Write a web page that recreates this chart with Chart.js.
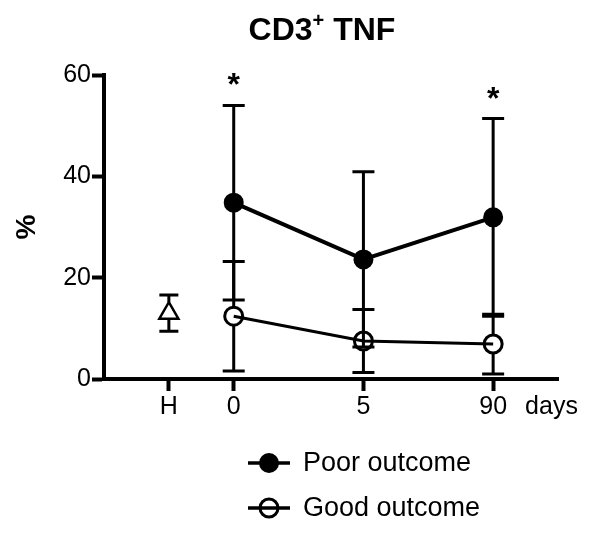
<!DOCTYPE html>
<html>
<head>
<meta charset="utf-8">
<script src="https://cdn.jsdelivr.net/npm/chart.js@4.4.1/dist/chart.umd.min.js"></script>
<style>
  html, body { margin: 0; padding: 0; background: #fff; }
  #wrap { width: 600px; height: 540px; position: relative; }
</style>
</head>
<body>
<div id="wrap"><canvas id="tnfChart"></canvas></div>
<script>
/* ==========================
   DATA
========================== */

const slotLabels = ["H", "0", "5", "90"];
const slotPos = [-0.5, 0, 1, 2];      // where each time point sits on the x axis
const daysPos = 2.45;                  // unit label after the last tick
const yTicks = [0, 20, 40, 60];

const healthyMean = [13.0];
const healthySd = [3.6];

const poorMean = [34.8, 23.6, 31.9];
const poorSd = [19.2, 17.3, 19.5];

const goodMean = [12.4, 7.5, 6.9];
const goodSd = [10.8, 6.2, 5.9];

const starred = ["0", "90"];           // significant time points (poor vs good)

const FONT = "'Liberation Sans', Arial, sans-serif";

/* ==========================
   HELPERS
========================== */

const toPoints = (means, slots) =>
    means.map((v, i) => ({ x: slotPos[slotLabels.indexOf(slots[i])], y: v }));

/* error bars drawn from the symbol edge outwards, like Prism */
const errorBars = {
    id: "errorBars",
    afterDatasetsDraw(chart) {
        const ctx = chart.ctx;
        const yScale = chart.scales.y;
        chart.data.datasets.forEach((ds, di) => {
            const meta = chart.getDatasetMeta(di);
            ctx.save();
            ctx.strokeStyle = "#000";
            ctx.lineWidth = 3;
            meta.data.forEach((el, i) => {
                const m = ds.data[i].y;
                const sd = ds.sd[i];
                const r = el.options.radius;
                const upGap = r;
                const downGap = ds.pointStyle === "triangle" ? r / 2 : r;
                const top = yScale.getPixelForValue(m + sd);
                const bot = yScale.getPixelForValue(m - sd);
                const cw = ds.capWidth;
                ctx.beginPath();
                ctx.moveTo(el.x, el.y - upGap);
                ctx.lineTo(el.x, top);
                ctx.moveTo(el.x - cw, top);
                ctx.lineTo(el.x + cw, top);
                ctx.moveTo(el.x, el.y + downGap);
                ctx.lineTo(el.x, bot);
                ctx.moveTo(el.x - cw, bot);
                ctx.lineTo(el.x + cw, bot);
                ctx.stroke();
            });
            ctx.restore();
        });

        /* asterisks above the poor outcome bars */
        const poorIdx = chart.data.datasets.findIndex(d => d.label === "Poor outcome");
        const poor = chart.data.datasets[poorIdx];
        const poorMeta = chart.getDatasetMeta(poorIdx);
        ctx.save();
        ctx.fillStyle = "#000";
        ctx.font = "bold 32px " + FONT;
        ctx.textAlign = "center";
        ctx.textBaseline = "alphabetic";
        poorMeta.data.forEach((el, i) => {
            const slot = slotLabels[slotLabels.indexOf("0") + i];
            if (!starred.includes(slot)) return;
            const top = yScale.getPixelForValue(poor.data[i].y + poor.sd[i]);
            ctx.fillText("*", el.x, top - 10);
        });
        ctx.restore();
    }
};

/* title with superscript and the stacked legend */
const decorations = {
    id: "decorations",
    afterDraw(chart) {
        const ctx = chart.ctx;
        const area = chart.chartArea;

        // title
        ctx.save();
        ctx.fillStyle = "#000";
        ctx.textBaseline = "alphabetic";
        const big = "bold 32px " + FONT;
        const small = "bold 20px " + FONT;
        ctx.font = big;
        const w1 = ctx.measureText("CD3").width;
        const w3 = ctx.measureText(" TNF").width;
        ctx.font = small;
        const w2 = ctx.measureText("+").width;
        let x = 322 - (w1 + w2 + w3) / 2;
        const base = 40;
        ctx.font = big;
        ctx.fillText("CD3", x, base);
        x += w1;
        ctx.font = small;
        ctx.fillText("+", x, base - 13);
        x += w2;
        ctx.font = big;
        ctx.fillText(" TNF", x, base);
        ctx.restore();

        // legend, poor outcome first
        const entries = chart.data.datasets
            .filter(d => d.legendRow !== undefined)
            .sort((a, b) => a.legendRow - b.legendRow);
        ctx.save();
        entries.forEach((ds, i) => {
            const y = area.bottom + 84 + i * 45;
            ctx.strokeStyle = "#000";
            ctx.beginPath();
            ctx.arc(269, y, ds.pointRadius, 0, Math.PI * 2);
            ctx.fillStyle = ds.pointBackgroundColor;
            ctx.fill();
            ctx.lineWidth = ds.pointBorderWidth;
            ctx.stroke();
            ctx.lineWidth = 3.5;
            ctx.beginPath();
            ctx.moveTo(248, y);
            ctx.lineTo(290, y);
            ctx.stroke();
            ctx.fillStyle = "#000";
            ctx.font = "27px " + FONT;
            ctx.textBaseline = "middle";
            ctx.textAlign = "left";
            ctx.fillText(ds.label, 303, y + 1);
        });
        ctx.restore();
    }
};

/* ==========================
   CHART
========================== */

const canvas = document.getElementById("tnfChart");

new Chart(canvas, {
    type: "line",
    data: {
        datasets: [
            {
                label: "Good outcome",
                legendRow: 1,
                data: toPoints(goodMean, ["0", "5", "90"]),
                sd: goodSd,
                capWidth: 11,
                borderColor: "#000",
                borderWidth: 3,
                pointStyle: "circle",
                pointRadius: 9,
                pointBorderWidth: 3,
                pointBackgroundColor: "rgba(0,0,0,0)",
                pointBorderColor: "#000",
                tension: 0
            },
            {
                label: "Poor outcome",
                legendRow: 0,
                data: toPoints(poorMean, ["0", "5", "90"]),
                sd: poorSd,
                capWidth: 11,
                borderColor: "#000",
                borderWidth: 4,
                pointStyle: "circle",
                pointRadius: 9,
                pointBorderWidth: 2,
                pointBackgroundColor: "#000",
                pointBorderColor: "#000",
                tension: 0
            },
            {
                label: "Healthy",
                data: toPoints(healthyMean, ["H"]),
                sd: healthySd,
                capWidth: 9.5,
                showLine: false,
                pointStyle: "triangle",
                pointRadius: 11,
                pointBorderWidth: 2.5,
                pointBackgroundColor: "#fff",
                pointBorderColor: "#000"
            }
        ]
    },
    options: {
        responsive: true,
        maintainAspectRatio: false,
        animation: false,
        layout: {
            padding: { top: 75, left: 10, right: 42, bottom: 0 }
        },
        plugins: {
            legend: { display: false },
            tooltip: { enabled: false }
        },
        scales: {
            x: {
                type: "linear",
                min: -1,
                max: 2.5,
                afterBuildTicks: s => {
                    s.ticks = slotPos.concat([daysPos]).map(v => ({ value: v }));
                },
                afterFit: s => { s.height = 161; },
                border: { color: "#000", width: 4 },
                grid: {
                    drawOnChartArea: false,
                    tickLength: 12,
                    tickWidth: 4,
                    tickColor: c => (c.tick && c.tick.value === daysPos) ? "rgba(0,0,0,0)" : "#000"
                },
                ticks: {
                    color: "#000",
                    font: { family: FONT, size: 25 },
                    padding: 1,
                    maxRotation: 0,
                    autoSkip: false,
                    callback: v => v === daysPos ? "days" : slotLabels[slotPos.indexOf(v)]
                }
            },
            y: {
                min: 0,
                max: 60,
                afterBuildTicks: s => {
                    s.ticks = yTicks.map(v => ({ value: v }));
                },
                afterFit: s => { s.width = 94; },
                border: { color: "#000", width: 4 },
                grid: {
                    drawOnChartArea: false,
                    tickLength: 12,
                    tickWidth: 4,
                    tickColor: "#000"
                },
                ticks: {
                    color: "#000",
                    font: { family: FONT, size: 25 },
                    padding: 1
                },
                title: {
                    display: true,
                    text: "%",
                    color: "#000",
                    font: { family: FONT, size: 28, weight: "bold" },
                    padding: 0
                }
            }
        }
    },
    plugins: [errorBars, decorations]
});
</script>
</body>
</html>
